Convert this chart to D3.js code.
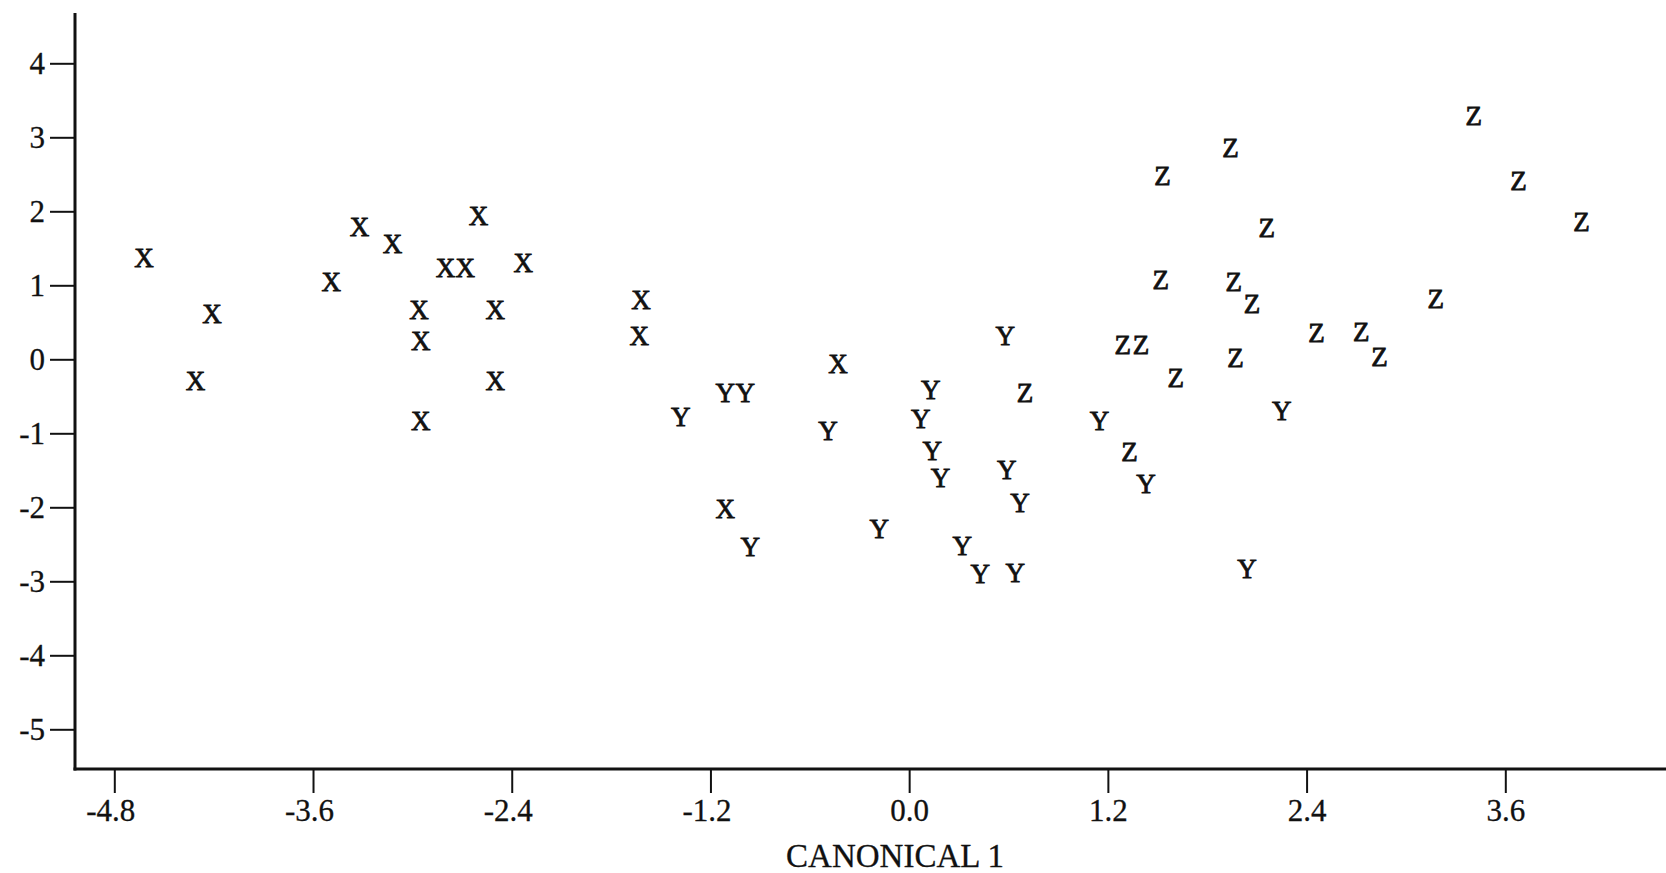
<!DOCTYPE html>
<html>
<head>
<meta charset="utf-8">
<script src="https://cdn.jsdelivr.net/npm/d3@7"></script>
<style>
  body { margin: 0; background: #fff; }
  svg text { font-family: "Liberation Serif", "Times New Roman", serif; fill: #111; }
</style>
</head>
<body>
<svg id="chart" width="1666" height="873"></svg>
<script>
// group labels used as plot symbols
const groupNames = ["X", "Y", "Z"];

// group X : canonical 1 / canonical 2 scores
const groupXc1 = [-4.62, -4.21, -4.31, -3.49, -3.32, -3.12, -2.96, -2.95, -2.95, -2.80, -2.68, -2.60, -2.50, -2.50, -2.33, -1.62, -1.63, -0.43, -1.11];
const groupXc2 = [1.37, 0.61, -0.30, 1.04, 1.78, 1.56, 0.66, 0.25, -0.83, 1.23, 1.23, 1.94, 0.67, -0.30, 1.30, 0.80, 0.32, -0.06, -2.03];

// group Y
const groupYc1 = [-1.38, -1.11, -0.99, -0.96, -0.49, -0.18, 0.13, 0.07, 0.14, 0.19, 0.58, 0.59, 0.67, 0.32, 0.43, 0.64, 1.15, 1.43, 2.25, 2.04];
const groupYc2 = [-0.78, -0.46, -0.46, -2.54, -0.97, -2.29, -0.42, -0.81, -1.24, -1.61, 0.32, -1.50, -1.94, -2.52, -2.90, -2.89, -0.83, -1.69, -0.70, -2.84];

// group Z
const groupZc1 = [0.70, 1.29, 1.40, 1.33, 1.53, 1.52, 1.61, 1.94, 1.96, 2.07, 1.97, 2.16, 2.46, 2.73, 2.84, 3.18, 3.41, 3.68, 4.06];
const groupZc2 = [-0.46, 0.19, 0.19, -1.25, 2.47, 1.07, -0.26, 2.85, 1.05, 0.75, 0.01, 1.77, 0.35, 0.37, 0.03, 0.82, 3.29, 2.41, 1.85];

const xTicks = [-4.8, -3.6, -2.4, -1.2, 0.0, 1.2, 2.4, 3.6];
const yTicks = [4, 3, 2, 1, 0, -1, -2, -3, -4, -5];
const xTitle = "CANONICAL 1";

function main() {
    var svg = d3.select("#chart");

    var xScale = d3.scaleLinear().domain([-4.8, 3.6]).range([114.3, 1505.3]);
    var yScale = d3.scaleLinear().domain([-5, 4]).range([729.3, 63.3]);

    var axisX = 75, axisY = 769;
    var serif = "'Liberation Serif', 'Times New Roman', serif";

    // y axis ticks
    var gy = svg.append("g").attr("transform", "translate(" + axisX + ",0)")
        .call(d3.axisLeft(yScale).tickValues(yTicks).tickSize(25).tickPadding(5)
            .tickFormat(function(d){ return String(d); }));
    gy.select(".domain").remove();
    gy.selectAll(".tick line").attr("stroke", "#111").attr("stroke-width", 2);
    gy.selectAll(".tick text").attr("font-size", "31px").attr("fill", "#111")
        .attr("stroke", "#111").attr("stroke-width", 0.3)
        .attr("font-family", serif);

    // x axis ticks
    var gx = svg.append("g").attr("transform", "translate(0," + axisY + ")")
        .call(d3.axisBottom(xScale).tickValues(xTicks).tickSize(24).tickPadding(6)
            .tickFormat(function(d){ return d.toFixed(1); }));
    gx.select(".domain").remove();
    gx.selectAll(".tick line").attr("stroke", "#111").attr("stroke-width", 2);
    gx.selectAll(".tick text").attr("font-size", "31px").attr("fill", "#111")
        .attr("stroke", "#111").attr("stroke-width", 0.3)
        .attr("dx", function(d){ return d < 0 ? "-4px" : "0"; })
        .attr("font-family", serif);

    // axis lines
    svg.append("line")
        .attr("x1", axisX).attr("y1", 13)
        .attr("x2", axisX).attr("y2", axisY + 1.5)
        .attr("stroke", "#111").attr("stroke-width", 3);
    svg.append("line")
        .attr("x1", axisX - 1.5).attr("y1", axisY)
        .attr("x2", 1666).attr("y2", axisY)
        .attr("stroke", "#111").attr("stroke-width", 3);

    // axis title
    svg.append("text")
        .attr("x", 895)
        .attr("y", 867)
        .attr("text-anchor", "middle")
        .attr("font-size", "33px")
        .attr("stroke", "#111").attr("stroke-width", 0.3)
        .text(xTitle);

    // points drawn as group letters
    var groups = [
        { name: groupNames[0], c1: groupXc1, c2: groupXc2 },
        { name: groupNames[1], c1: groupYc1, c2: groupYc2 },
        { name: groupNames[2], c1: groupZc1, c2: groupZc2 }
    ];

    groups.forEach(function(gr){
        var pts = gr.c1.map(function(v, i){ return { x: v, y: gr.c2[i] }; });
        svg.append("g").selectAll("text")
            .data(pts)
            .enter().append("text")
            .attr("x", function(d){ return xScale(d.x); })
            .attr("y", function(d){ return yScale(d.y); })
            .attr("dy", "0.33em")
            .attr("text-anchor", "middle")
            .attr("font-size", "27px")
            .attr("stroke", "#111")
            .attr("stroke-width", 0.8)
            .text(gr.name);
    });
}

main();
</script>
</body>
</html>
